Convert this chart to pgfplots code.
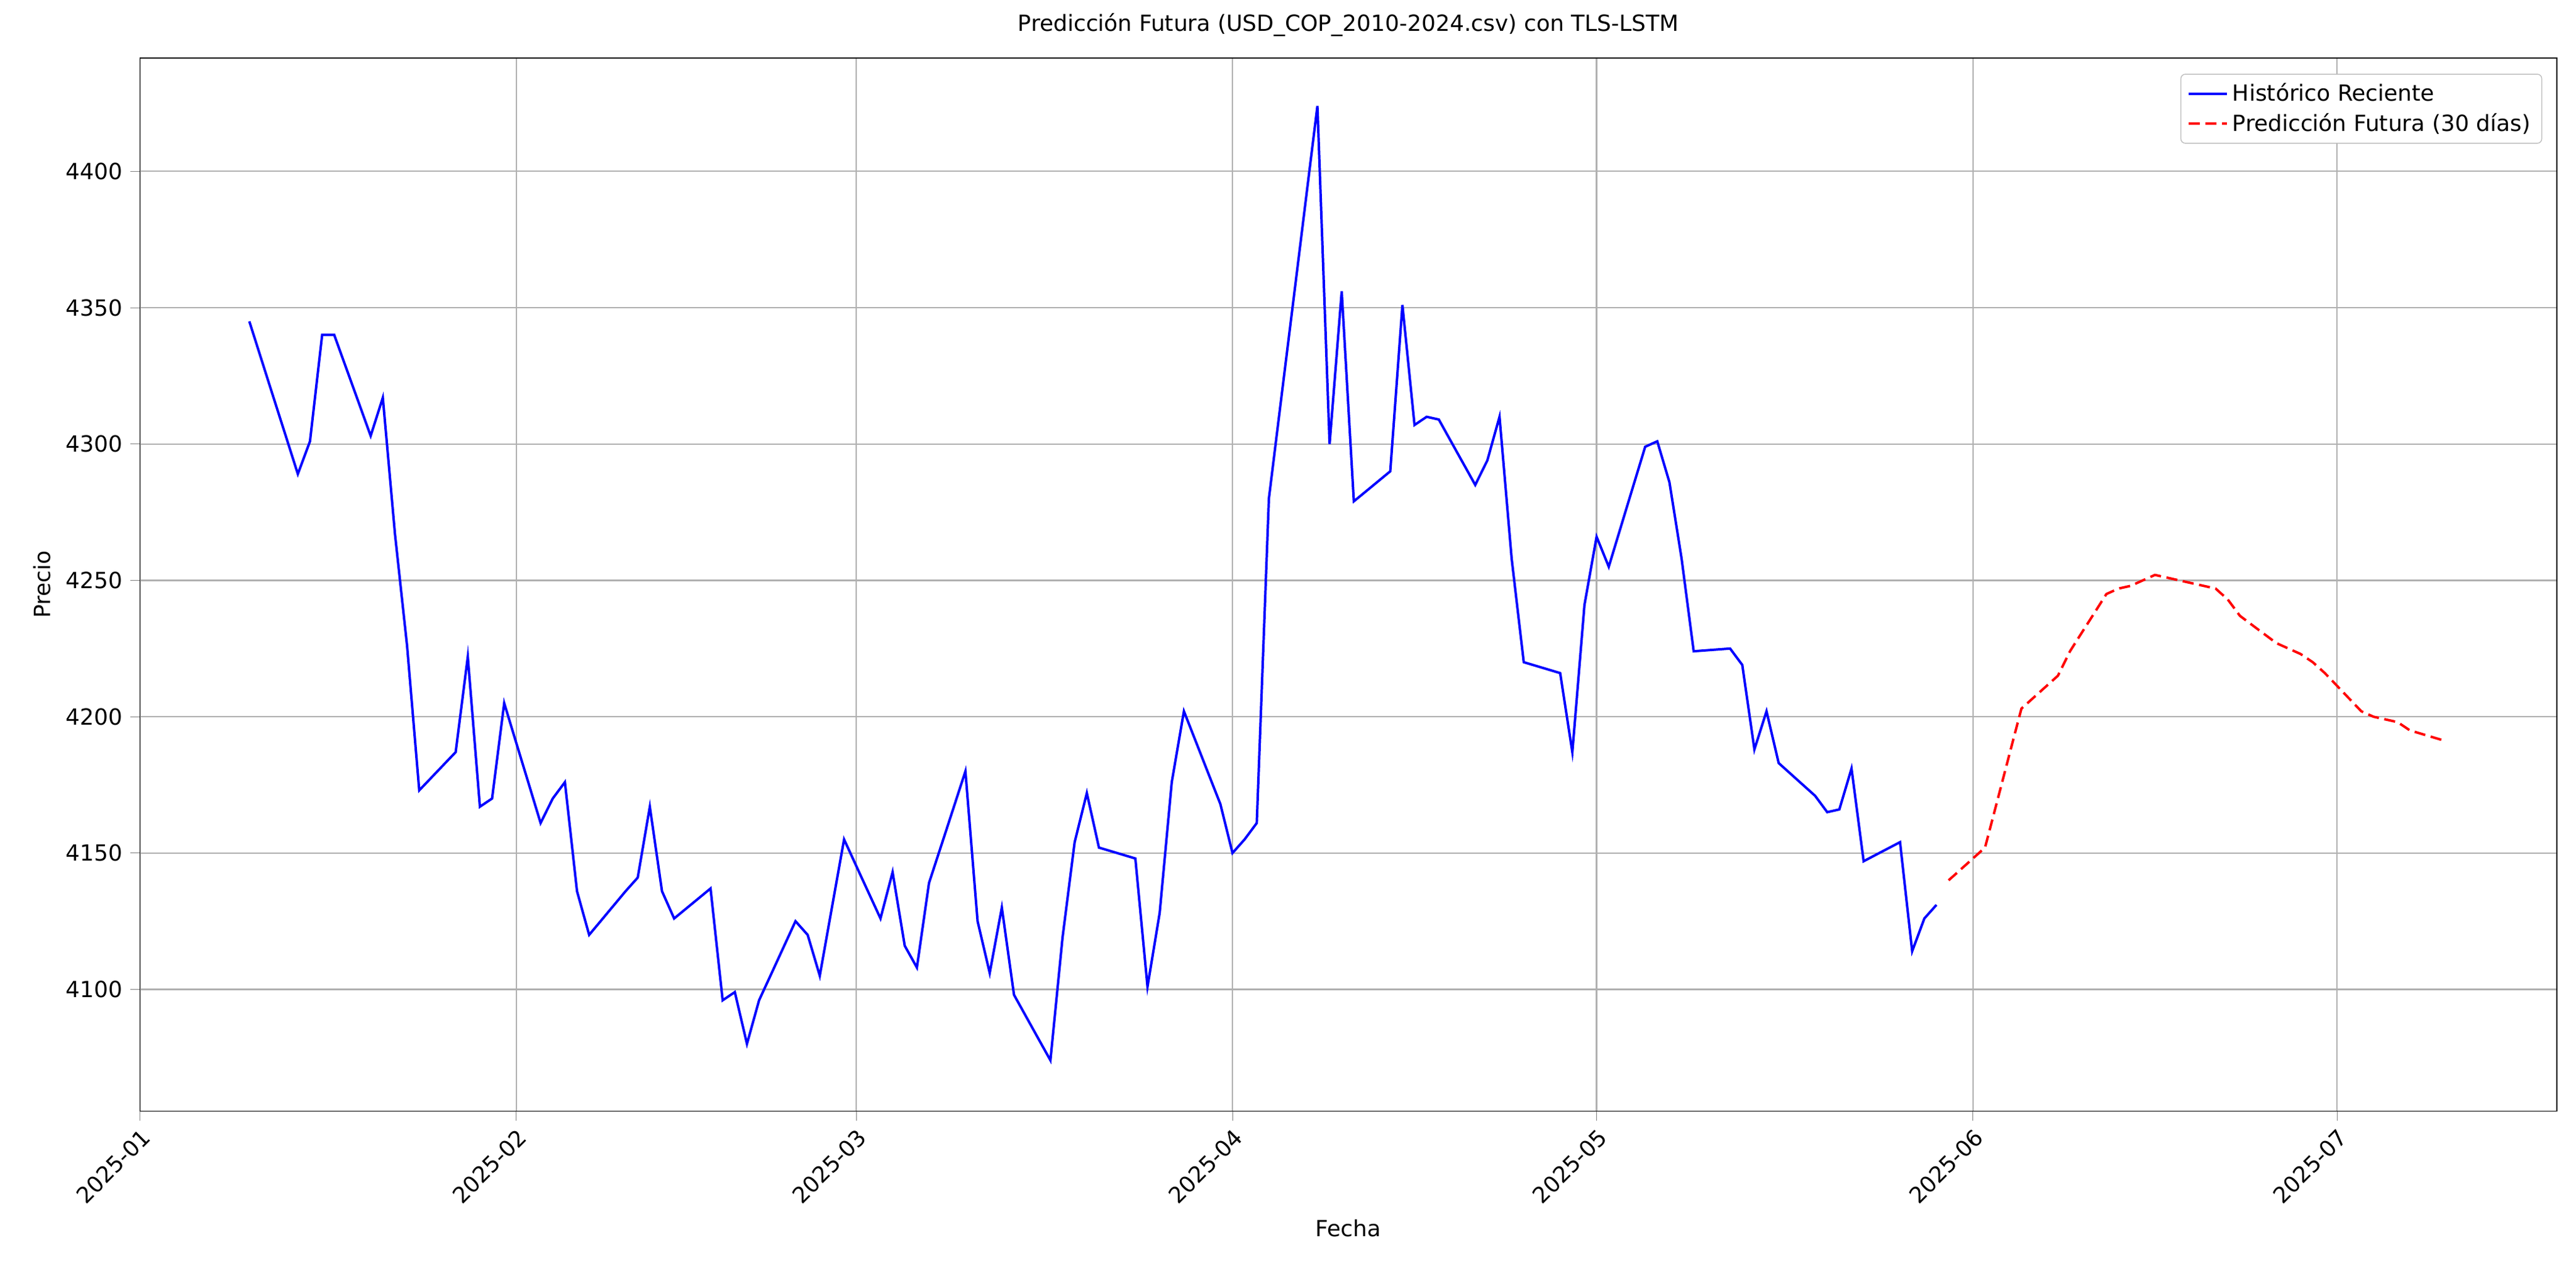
\documentclass[border=0pt]{standalone}
\usepackage{pgfplots}
\pgfplotsset{compat=1.18}
\usepackage{fontspec}
\setmainfont{DejaVu Sans}
\begin{document}
\begin{tikzpicture}
\begin{axis}[
 scale only axis, width=15.01in, height=6.54in,
 xmin=0, xmax=199.1, ymin=4055.4, ymax=4441.6,
 xtick={0,31,59,90,120,151,181},
 xticklabels={2025-01,2025-02,2025-03,2025-04,2025-05,2025-06,2025-07},
 xticklabel style={rotate=45, anchor=north east, inner sep=2pt},
 ytick={4100,4150,4200,4250,4300,4350,4400},
 /pgf/number format/assume math mode=true,
 /pgf/number format/1000 sep={},
 grid=major, grid style={black!31, line width=0.6pt},
 tick align=outside, tick pos=left,
 xlabel={Fecha}, ylabel={Precio},
 title={Predicción Futura (USD\_COP\_2010-2024.csv) con TLS-LSTM},
 legend cell align=left,
 legend style={at={(0.994,0.985)}, anchor=north east, draw=gray!50, rounded corners=2pt},
 every axis plot/.append style={line width=1.1pt},
]
\addplot[blue, no marks] coordinates {
(9,4345)(13,4289)(14,4301)(15,4340)(16,4340)(19,4303)(20,4317)(21,4267)(22,4226)(23,4173)
(26,4187)(27,4222)(28,4167)(29,4170)(30,4205)(33,4161)(34,4170)(35,4176)(36,4136)(37,4120)
(40,4136)(41,4141)(42,4167)(43,4136)(44,4126)(47,4137)(48,4096)(49,4099)(50,4080)(51,4096)
(54,4125)(55,4120)(56,4105)(58,4155)(61,4126)(62,4143)(63,4116)(64,4108)(65,4139)(68,4180)
(69,4125)(70,4106)(71,4130)(72,4098)(75,4074)(76,4119)(77,4154)(78,4172)(79,4152)(82,4148)
(83,4101)(84,4128)(85,4176)(86,4202)(89,4168)(90,4150)(91,4155)(92,4161)(93,4280)(97,4424)
(98,4300)(99,4356)(100,4279)(103,4290)(104,4351)(105,4307)(106,4310)(107,4309)(110,4285)(111,4294)
(112,4310)(113,4258)(114,4220)(117,4216)(118,4187)(119,4241)(120,4266)(121,4255)(124,4299)(125,4301)
(126,4286)(127,4258)(128,4224)(131,4225)(132,4219)(133,4188)(134,4202)(135,4183)(138,4171)(139,4165)
(140,4166)(141,4181)(142,4147)(145,4154)(146,4114)(147,4126)(148,4131)
};
\addlegendentry{Histórico Reciente}
\addplot[red, dashed, dash pattern=on 5pt off 2.5pt, no marks] coordinates {
(149,4140)(150,4144)(151,4148)(152,4152)(155,4203)(156,4207)(157,4211)(158,4215)(159,4224)
(162,4245)(163,4247)(164,4248)(165,4250)(166,4252)(169,4249)(170,4248)(171,4247)(172,4243)(173,4237)
(176,4227)(177,4225)(178,4223)(179,4220)(180,4216)(183,4202)(184,4200)(185,4199)(186,4198)(187,4195)
(190,4191)
};
\addlegendentry{Predicción Futura (30 días)}
\end{axis}
\useasboundingbox (current axis.south west) ++(-0.87in,-1.03in) rectangle ([shift={(0.12in,0.36in)}]current axis.north east);
\end{tikzpicture}
\end{document}
